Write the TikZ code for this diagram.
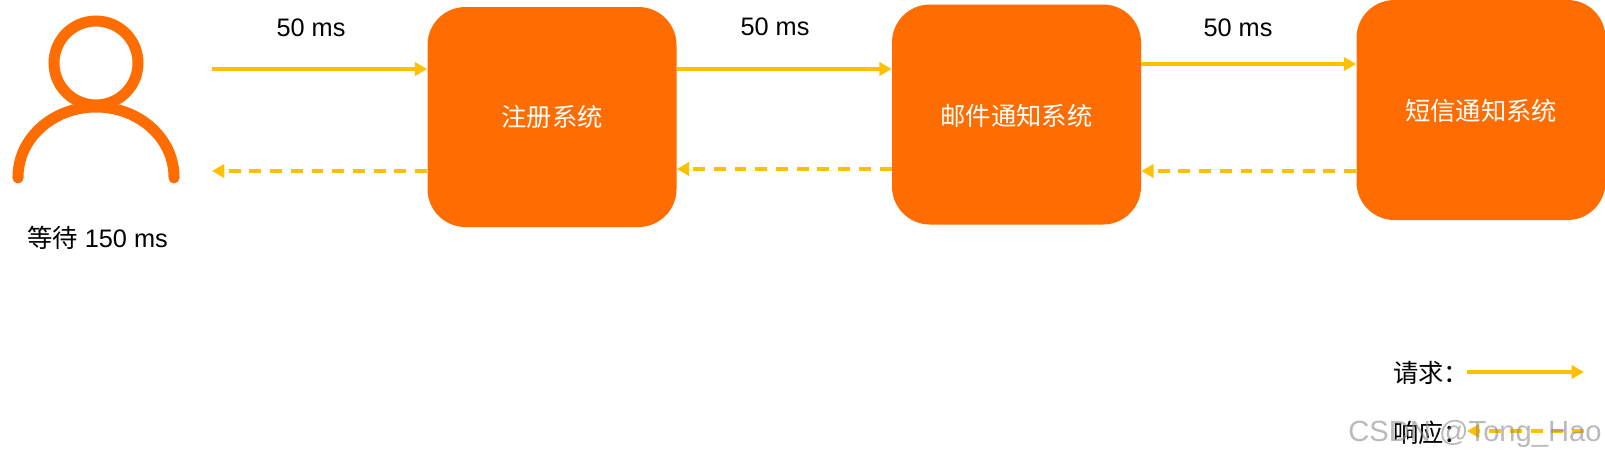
\documentclass[tikz,border=0pt]{standalone}
\usepackage{fontspec}
\setmainfont{Liberation Sans}
\newfontfamily\cjk{Noto Sans CJK SC}
\usetikzlibrary{arrows.meta}

\begin{document}
\begin{tikzpicture}[x=.2mm,y=-.2mm,
  sys/.style={fill=sysorange,rounded corners=.76cm,minimum width=4.98cm,minimum height=4.4cm,inner sep=0pt,text=white,font=\fontsize{14.4}{14}\selectfont\cjk},
  txt/.style={inner sep=0pt,font=\fontsize{14.4}{14}\selectfont},
  icon/.style={draw=sysorange,line width=.22cm,line cap=round},
  req/.style={-{Triangle[length=7pt,width=7.5pt]},draw=linegold,line width=1.9pt},
  resp/.style={req,dash pattern=on 6.8pt off 5pt}]
  \definecolor{sysorange}{HTML}{FF6C00}
  \definecolor{linegold}{HTML}{FFC000}
  \useasboundingbox (0,0) rectangle (1605,462);

  % user icon
  \draw[icon] (96,63) circle [radius=42];
  \draw[icon] (18,178) -- (18,177) arc[start angle=180,end angle=360,x radius=78,y radius=70] -- (174,178);
  \node[txt] (wait) at (97.5,238) {{\cjk 等待} 150 ms};

  \node[sys] (reg) at (552,117) {注册系统};
  \node[sys,text depth=-1pt] (mail) at (1016.5,114.5) {邮件通知系统};
  \node[sys,text depth=-1pt] (sms) at (1481,110) {短信通知系统};

  \node[txt] (ta) at (311,28) {50 ms};
  \node[txt] (tb) at (775,27) {50 ms};
  \node[txt] (tc) at (1238,28) {50 ms};

  \coordinate (ua) at (212,69);
  \coordinate (ub) at (212,171);
  \coordinate (ra) at (700,69);
  \coordinate (rb) at (700,169);
  \coordinate (rc) at (1200,64);
  \coordinate (rd) at (1200,171);

  \draw[req] (ua) -- (ua -| reg.west);
  \draw[resp] (ub -| reg.west) -- (ub);
  \draw[req] (ra -| reg.east) -- (ra -| mail.west);
  \draw[resp] (rb -| mail.west) -- (rb -| reg.east);
  \draw[req] (rc -| mail.east) -- (rc -| sms.west);
  \draw[resp] (rd -| sms.west) -- (rd -| mail.east);

  % legend
  \node[txt,font=\fontsize{14.4}{14}\selectfont\cjk] (lreq) at (1431,373) {请求：};
  \node[txt,font=\fontsize{14.4}{14}\selectfont\cjk] (lresp) at (1431,433) {响应：};
  \coordinate (la) at (1467,372);
  \coordinate (lb) at (1584,372);
  \coordinate (lc) at (1584,431);
  \coordinate (ld) at (1467,431);
  \draw[req] (la) -- (lb);
  \draw[resp] (lc) -- (ld);

  \node[inner sep=0pt,text=black!45,opacity=.6,font=\fontsize{16.6}{16}\selectfont] (mark) at (1475,434) {CSDN @Tong\_Hao};
\end{tikzpicture}
\end{document}
